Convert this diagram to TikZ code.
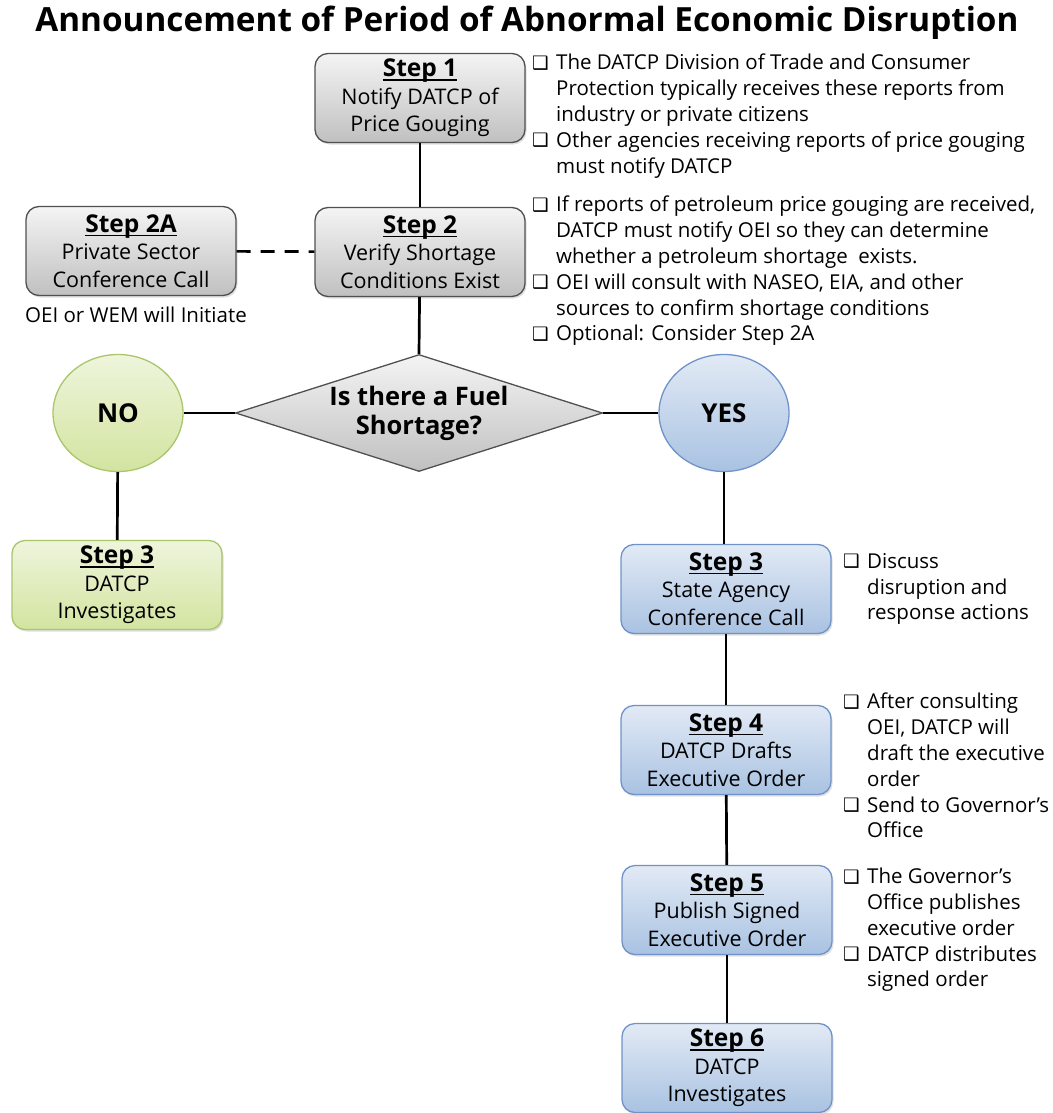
\documentclass[tikz,border=0pt]{standalone}
\usepackage{fontspec}
\setmainfont{Open Sans}
\newfontfamily\dvfont{DejaVu Sans}
\usetikzlibrary{shapes.geometric,shadows}
\definecolor{grayTop}{HTML}{F4F4F4}
\definecolor{grayBot}{HTML}{C0C0C0}
\definecolor{grayLine}{HTML}{505050}
\definecolor{blueTop}{HTML}{E2EAF5}
\definecolor{blueBot}{HTML}{A9C2E2}
\definecolor{blueLine}{HTML}{6F93C8}
\definecolor{greenTop}{HTML}{EEF5DC}
\definecolor{greenBot}{HTML}{D3E4A0}
\definecolor{greenLine}{HTML}{A9C66A}
\newcommand\cbx{\makebox[24pt][l]{\raisebox{0.5pt}{\dvfont\fontsize{18.5}{18.5}\selectfont ❑}}}
\newcommand\ind{\hspace*{24pt}}
\newlength\ulw
\newcommand\steplab[1]{{\bfseries\fontsize{24.5}{27.5}\selectfont\settowidth\ulw{#1}\rlap{\rule[-4pt]{\ulw}{1.6pt}}#1}}
\tikzset{
  stepbox/.style={rectangle, rounded corners=13pt, minimum width=210pt, minimum height=89pt,
    inner sep=0pt, align=center, line width=1.3pt,
    font=\fontsize{21.5}{27.5}\selectfont,
    drop shadow={shadow xshift=1.5pt, shadow yshift=-2pt, opacity=.25}},
  graybox/.style={stepbox, draw=grayLine, top color=grayTop, bottom color=grayBot},
  bluebox/.style={stepbox, draw=blueLine, top color=blueTop, bottom color=blueBot},
  greenbox/.style={stepbox, draw=greenLine, top color=greenTop, bottom color=greenBot},
  notes/.style={anchor=north west, inner sep=0pt, align=left, font=\fontsize{20.5}{25.8}\selectfont},
  link/.style={line width=2.7pt, black},
  oval/.style={ellipse, minimum width=130pt, minimum height=117pt, inner sep=0pt, line width=1.3pt,
    font=\bfseries\fontsize{26}{29}\selectfont},
}
\begin{document}
\begin{tikzpicture}[x=1pt,y=-1pt]
\useasboundingbox (0,0) rectangle (1052,1113);
\node (title) at (527,23) {\bfseries\fontsize{33.3}{36}\selectfont Announcement of Period of Abnormal Economic Disruption};

\node[graybox] (s1) at (420,98) {\steplab{Step 1}\\Notify DATCP of\\Price Gouging};
\node[graybox] (s2) at (420,252) {\steplab{Step 2}\\Verify Shortage\\Conditions Exist};
\node[graybox] (s2a) at (131,251) {\steplab{Step 2A}\\Private Sector\\Conference Call};
\node[font=\fontsize{20.5}{22}\selectfont] (s2alab) at (136,315) {OEI or WEM will Initiate};

\node[diamond, minimum width=367pt, minimum height=117pt, inner sep=0pt, draw=grayLine, line width=1.3pt,
  top color=grayTop, bottom color=grayBot] (q) at (419,413) {};
\node[align=center, font=\bfseries\fontsize{25.5}{29}\selectfont] (qtext) at (q.center) {Is there a Fuel\\Shortage?};

\node[oval, draw=greenLine, top color=greenTop, bottom color=greenBot] (no) at (118,413) {NO};
\node[oval, draw=blueLine, top color=blueTop, bottom color=blueBot] (yes) at (724,413) {YES};

\node[greenbox] (n3) at (117,585) {\steplab{Step 3}\\DATCP\\Investigates};
\node[bluebox] (y3) at (726,589) {\steplab{Step 3}\\State Agency\\Conference Call};
\node[bluebox] (y4) at (726,750) {\steplab{Step 4}\\DATCP Drafts\\Executive Order};
\node[bluebox] (y5) at (727,910) {\steplab{Step 5}\\Publish Signed\\Executive Order};
\node[bluebox] (y6) at (727,1068) {\steplab{Step 6}\\DATCP\\Investigates};

\draw[link] (s1) -- (s2);
\draw[link] (s2) -- (q.north);
\draw[link, dash pattern=on 14pt off 10pt] (s2a) -- (s2);
\draw[link] (no) -- (q.west);
\draw[link] (q.east) -- (yes);
\draw[link] (no) -- (n3);
\draw[link] (yes.south) -- (yes.south |- y3.north);
\draw[link] (y3) -- (y4);
\draw[link] (y4) -- (y5);
\draw[link] (y5) -- (y6);

\node[notes] (t1) at (532,54) {\cbx The DATCP Division of Trade and Consumer\\
\ind Protection typically receives these reports from\\
\ind industry or private citizens\\
\cbx Other agencies receiving reports of price gouging\\
\ind must notify DATCP};
\node[notes] (t2) at (532,196) {\cbx If reports of petroleum price gouging are received,\\
\ind DATCP must notify OEI so they can determine\\
\ind whether a petroleum shortage\ \ exists.\\
\cbx OEI will consult with NASEO, EIA, and other\\
\ind sources to confirm shortage conditions\\
\cbx Optional: Consider Step 2A};
\node[notes] (t3) at (843,553) {\cbx Discuss\\
\ind disruption and\\
\ind response actions};
\node[notes] (t4) at (843,693) {\cbx After consulting\\
\ind OEI, DATCP will\\
\ind draft the executive\\
\ind order\\
\cbx Send to Governor's\\
\ind Office};
\node[notes] (t5) at (843,868) {\cbx The Governor’s\\
\ind Office publishes\\
\ind executive order\\
\cbx DATCP distributes\\
\ind signed order};
\end{tikzpicture}
\end{document}
